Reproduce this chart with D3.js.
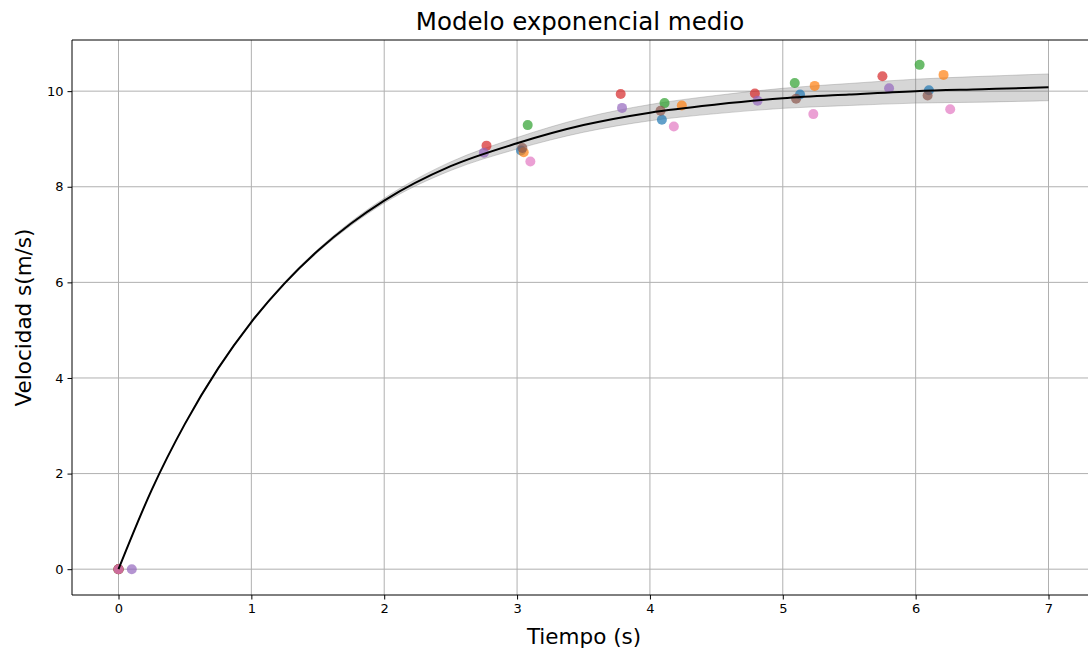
<!DOCTYPE html>
<html><head><meta charset="utf-8">
<script src="https://cdn.jsdelivr.net/npm/d3@7"></script>
<style>html,body{margin:0;padding:0;background:#fff;overflow:hidden}svg{display:block}text{font-family:"DejaVu Sans",sans-serif}</style>
</head><body>
<script>
// Model curve readings (time s, velocity m/s)
const curveT = [0, 0.25, 0.5, 0.75, 1, 1.25, 1.5, 1.75, 2, 2.5, 3, 3.5, 4, 4.5, 5, 5.5, 6, 6.5, 7];
const curveV = [0, 1.66, 3.04, 4.20, 5.17, 5.98, 6.66, 7.23, 7.71, 8.43, 8.91, 9.29, 9.55, 9.72, 9.85, 9.93, 10.00, 10.04, 10.08];
const bandHalf = [0, 0.005, 0.01, 0.015, 0.02, 0.025, 0.03, 0.04, 0.05, 0.09, 0.12, 0.15, 0.17, 0.19, 0.21, 0.23, 0.25, 0.27, 0.28];

// Measured series (tab10 order)
const seriesColors = ["#1f77b4", "#ff7f0e", "#2ca02c", "#d62728", "#9467bd", "#8c564b", "#e377c2"];
const blueT = [0, 3.03, 4.09, 5.13, 6.10], blueV = [0, 8.76, 9.40, 9.93, 10.02];
const orangeT = [0, 3.05, 4.24, 5.24, 6.21], orangeV = [0, 8.72, 9.70, 10.11, 10.34];
const greenT = [0, 3.08, 4.11, 5.09, 6.03], greenV = [0, 9.29, 9.75, 10.17, 10.55];
const redT = [0, 2.77, 3.78, 4.79, 5.75], redV = [0, 8.86, 9.94, 9.95, 10.31];
const purpleT = [0.1, 2.75, 3.79, 4.81, 5.80], purpleV = [0, 8.71, 9.65, 9.80, 10.06];
const brownT = [0, 3.04, 4.08, 5.10, 6.09], brownV = [0, 8.81, 9.59, 9.84, 9.91];
const pinkT = [0, 3.10, 4.18, 5.23, 6.26], pinkV = [0, 8.53, 9.26, 9.52, 9.62];

const xTicks = [0, 1, 2, 3, 4, 5, 6, 7];
const yTicks = [0, 2, 4, 6, 8, 10];
const title = "Modelo exponencial medio";
const xLabel = "Tiempo (s)";
const yLabel = "Velocidad s(m/s)";

const W = 1088, H = 651;
const L = 72, T = 40, R = 1095, B = 595;
const svg = d3.select("body").append("svg").attr("width", W).attr("height", H);
const x = d3.scaleLinear().domain([-0.35, 7.35]).range([L, R]);
const y = d3.scaleLinear().domain([-0.54, 11.07]).range([B, T]);

const g = svg.append("g");
// grid
g.selectAll(".gx").data(xTicks).join("line")
  .attr("x1", d => x(d)).attr("x2", d => x(d)).attr("y1", T).attr("y2", B)
  .attr("stroke", "#b0b0b0").attr("stroke-width", 1);
g.selectAll(".gy").data(yTicks).join("line")
  .attr("x1", L).attr("x2", R).attr("y1", d => y(d)).attr("y2", d => y(d))
  .attr("stroke", "#b0b0b0").attr("stroke-width", 1);

const curve = curveT.map((t, i) => ({t, v: curveV[i], h: bandHalf[i]}));
// band
g.append("path").datum(curve)
  .attr("d", d3.area().x(d => x(d.t)).y0(d => y(d.v - d.h)).y1(d => y(d.v + d.h)).curve(d3.curveMonotoneX))
  .attr("fill", "rgba(128,128,128,0.32)").attr("stroke", "rgba(128,128,128,0.35)").attr("stroke-width", 1);

// points
const allSeries = [[blueT, blueV], [orangeT, orangeV], [greenT, greenV], [redT, redV], [purpleT, purpleV], [brownT, brownV], [pinkT, pinkV]];
allSeries.forEach(([ts, vs], si) => {
  g.append("g").selectAll("circle").data(ts.map((t, i) => ({t, v: vs[i]}))).join("circle")
    .attr("cx", d => x(d.t)).attr("cy", d => y(d.v)).attr("r", 5)
    .attr("fill", seriesColors[si]).attr("fill-opacity", 0.7);
});

// line
g.append("path").datum(curve)
  .attr("d", d3.line().x(d => x(d.t)).y(d => y(d.v)).curve(d3.curveMonotoneX))
  .attr("fill", "none").attr("stroke", "#000").attr("stroke-width", 2);

// axes
const xa = svg.append("g").attr("transform", `translate(0,${B})`)
  .call(d3.axisBottom(x).tickValues(xTicks).tickSize(4.5).tickPadding(4).tickFormat(d3.format("d")));
const ya = svg.append("g").attr("transform", `translate(${L},0)`)
  .call(d3.axisLeft(y).tickValues(yTicks).tickSize(4.5).tickPadding(4).tickFormat(d3.format("d")));
[xa, ya].forEach(a => {
  a.select(".domain").remove();
  a.selectAll("line").attr("stroke", "#000").attr("stroke-width", 1);
  a.selectAll("text").attr("font-family", "DejaVu Sans").attr("font-size", 13).attr("fill", "#000");
});
// spines
svg.append("line").attr("x1", L).attr("x2", L).attr("y1", T).attr("y2", B).attr("stroke", "#000").attr("stroke-width", 1);
svg.append("line").attr("x1", L).attr("x2", R).attr("y1", B).attr("y2", B).attr("stroke", "#000").attr("stroke-width", 1);
svg.append("line").attr("x1", L).attr("x2", R).attr("y1", T).attr("y2", T).attr("stroke", "#000").attr("stroke-width", 1);
svg.append("line").attr("x1", R).attr("x2", R).attr("y1", T).attr("y2", B).attr("stroke", "#000").attr("stroke-width", 1);

svg.append("text").attr("x", 580).attr("y", 30).attr("text-anchor", "middle").attr("font-size", 24.5).text(title);
svg.append("text").attr("x", 584).attr("y", 644).attr("text-anchor", "middle").attr("font-size", 21.5).text(xLabel);
svg.append("text").attr("transform", `translate(31,${(T + B) / 2}) rotate(-90)`).attr("text-anchor", "middle").attr("font-size", 21.5).text(yLabel);
</script>
</body></html>
